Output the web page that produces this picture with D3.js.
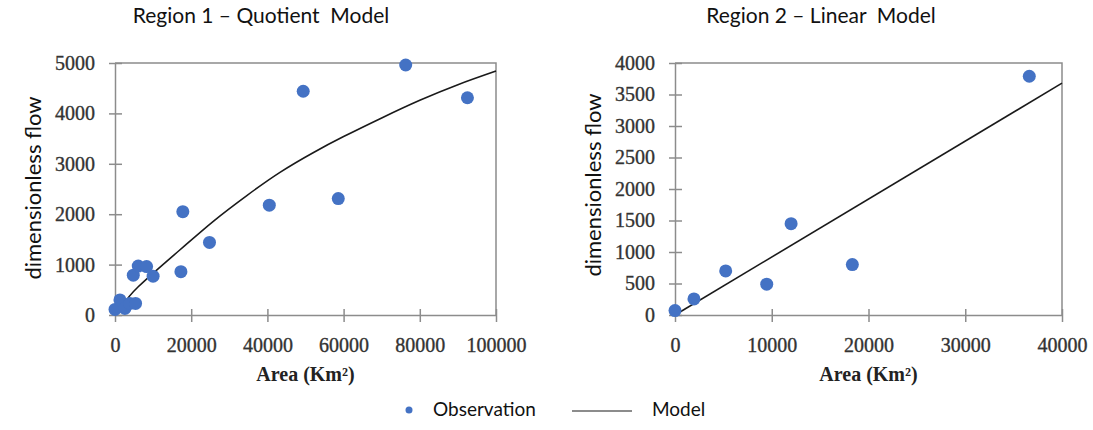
<!DOCTYPE html>
<html>
<head>
<meta charset="utf-8">
<script src="https://cdn.jsdelivr.net/npm/d3@7"></script>
<style>
  body { margin: 0; background: #fff; }
  svg { display: block; }
  .sans { font-family: Lato, "Open Sans", sans-serif; }
  .serif { font-family: "Liberation Serif", "DejaVu Serif", serif; }
</style>
</head>
<body>
<svg width="1093" height="430"></svg>
<script>
// Region 1 observations (Area km2, dimensionless flow)
var r1Area = [0, 1300, 2600, 3900, 5400, 4800, 6100, 8300, 10000, 17300, 17800, 24800, 40500, 49400, 58600, 76300, 92500];
var r1Flow = [110, 300, 130, 230, 230, 790, 970, 960, 770, 860, 2050, 1440, 2180, 4440, 2310, 4960, 4310];
// Region 1 quotient model curve
var r1ModelArea = [2200, 6100, 17000, 25800, 34600, 43300, 52000, 60000, 70000, 80000, 90000, 100000];
var r1ModelFlow = [200, 560, 1290, 1860, 2370, 2830, 3220, 3540, 3910, 4260, 4570, 4840];
var r1XTicks = [0, 20000, 40000, 60000, 80000, 100000];
var r1YTicks = [0, 1000, 2000, 3000, 4000, 5000];

// Region 2 observations
var r2Area = [0, 1960, 5240, 9480, 12000, 18330, 36620];
var r2Flow = [70, 255, 700, 490, 1450, 800, 3790];
// Region 2 linear model
var r2ModelArea = [0, 40000];
var r2ModelFlow = [0, 3680];
var r2XTicks = [0, 10000, 20000, 30000, 40000];
var r2YTicks = [0, 500, 1000, 1500, 2000, 2500, 3000, 3500, 4000];

var svg = d3.select("svg");
var dotColor = "#4472c4",
    axisColor = "#8c8c8c";

var drawPanel = function(opt) {
  var x = d3.scaleLinear().domain(opt.xDomain).range([opt.left, opt.right]);
  var y = d3.scaleLinear().domain(opt.yDomain).range([opt.bottom, opt.top]);
  var g = svg.append("g");

  // frame (top + right)
  g.append("path")
    .attr("d", "M" + opt.left + "," + opt.top + "H" + opt.right + "V" + opt.bottom)
    .attr("fill", "none")
    .attr("stroke", axisColor)
    .attr("stroke-width", 1.5);

  var xAxis = g.append("g")
    .attr("transform", "translate(0," + opt.bottom + ")")
    .call(d3.axisBottom(x).tickValues(opt.xTicks).tickSizeInner(7).tickSizeOuter(0).tickFormat(d3.format("d")));
  xAxis.selectAll(".tick line").attr("y1", -6);
  xAxis.selectAll(".tick text")
    .attr("class", "serif")
    .attr("y", 37).attr("dy", 0)
    .style("font-size", "20px");

  var yAxis = g.append("g")
    .attr("transform", "translate(" + opt.left + ",0)")
    .call(d3.axisLeft(y).tickValues(opt.yTicks).tickSizeInner(6).tickSizeOuter(0).tickFormat(d3.format("d")));
  yAxis.selectAll(".tick line").attr("x1", 7);
  yAxis.selectAll(".tick text")
    .attr("class", "serif")
    .attr("x", -20)
    .style("font-size", "20px");

  [xAxis, yAxis].forEach(function(a) {
    a.attr("font-family", null).attr("font-size", null);
    a.selectAll("path, line").attr("stroke", axisColor).attr("stroke-width", 1.5);
    a.selectAll(".tick text")
      .attr("fill", "#333")
      .attr("stroke", "#333")
      .attr("stroke-width", 0.35);
  });

  // model line
  var line = d3.line()
    .x(function(d) { return x(d[0]); })
    .y(function(d) { return y(d[1]); })
    .curve(d3.curveNatural);
  g.append("path")
    .datum(opt.modelArea.map(function(a, i) { return [a, opt.modelFlow[i]]; }))
    .attr("d", line)
    .attr("fill", "none")
    .attr("stroke", "#1a1a1a")
    .attr("stroke-width", 1.6);

  // observations
  g.selectAll("circle.obs")
    .data(opt.area.map(function(a, i) { return [a, opt.flow[i]]; }))
    .enter().append("circle")
    .attr("class", "obs")
    .attr("cx", function(d) { return x(d[0]); })
    .attr("cy", function(d) { return y(d[1]); })
    .attr("r", 6.5)
    .attr("fill", dotColor);

  // titles
  g.append("text")
    .attr("class", "sans")
    .attr("x", opt.titleX).attr("y", 23)
    .attr("text-anchor", "middle")
    .style("font-size", "21px")
    .style("white-space", "pre")
    .attr("fill", "#111")
    .text(opt.title);

  g.append("text")
    .attr("class", "sans")
    .attr("transform", "translate(" + opt.yLabelX + "," + opt.yLabelY + ") rotate(-90)")
    .attr("text-anchor", "middle")
    .style("font-size", "22px")
    .attr("fill", "#111")
    .text("dimensionless flow");

  g.append("text")
    .attr("class", "serif")
    .attr("x", (opt.left + opt.right) / 2).attr("y", 381)
    .attr("text-anchor", "middle")
    .style("font-size", "20px")
    .style("font-weight", "bold")
    .attr("fill", "#222")
    .text("Area (Km²)");
};

drawPanel({
  left: 115, right: 496, top: 63, bottom: 315,
  xDomain: [0, 100000], yDomain: [0, 5000],
  xTicks: r1XTicks, yTicks: r1YTicks,
  area: r1Area, flow: r1Flow,
  modelArea: r1ModelArea, modelFlow: r1ModelFlow,
  title: "Region 1 \u2013 Quotient  Model", titleX: 261,
  yLabelX: 41, yLabelY: 188
});

drawPanel({
  left: 675, right: 1062, top: 63, bottom: 315,
  xDomain: [0, 40000], yDomain: [0, 4000],
  xTicks: r2XTicks, yTicks: r2YTicks,
  area: r2Area, flow: r2Flow,
  modelArea: r2ModelArea, modelFlow: r2ModelFlow,
  title: "Region 2 \u2013 Linear  Model", titleX: 821,
  yLabelX: 601, yLabelY: 185
});

// legend
var legend = svg.append("g");
legend.append("circle").attr("cx", 409).attr("cy", 410).attr("r", 3.5).attr("fill", dotColor);
legend.append("text").attr("class", "sans").attr("x", 433).attr("y", 416)
  .style("font-size", "19px").attr("fill", "#111").text("Observation");
legend.append("line").attr("x1", 572).attr("x2", 632).attr("y1", 411).attr("y2", 411)
  .attr("stroke", "#1a1a1a").attr("stroke-width", 1.1);
legend.append("text").attr("class", "sans").attr("x", 652).attr("y", 416)
  .style("font-size", "19px").attr("fill", "#111").text("Model");
</script>
</body>
</html>
